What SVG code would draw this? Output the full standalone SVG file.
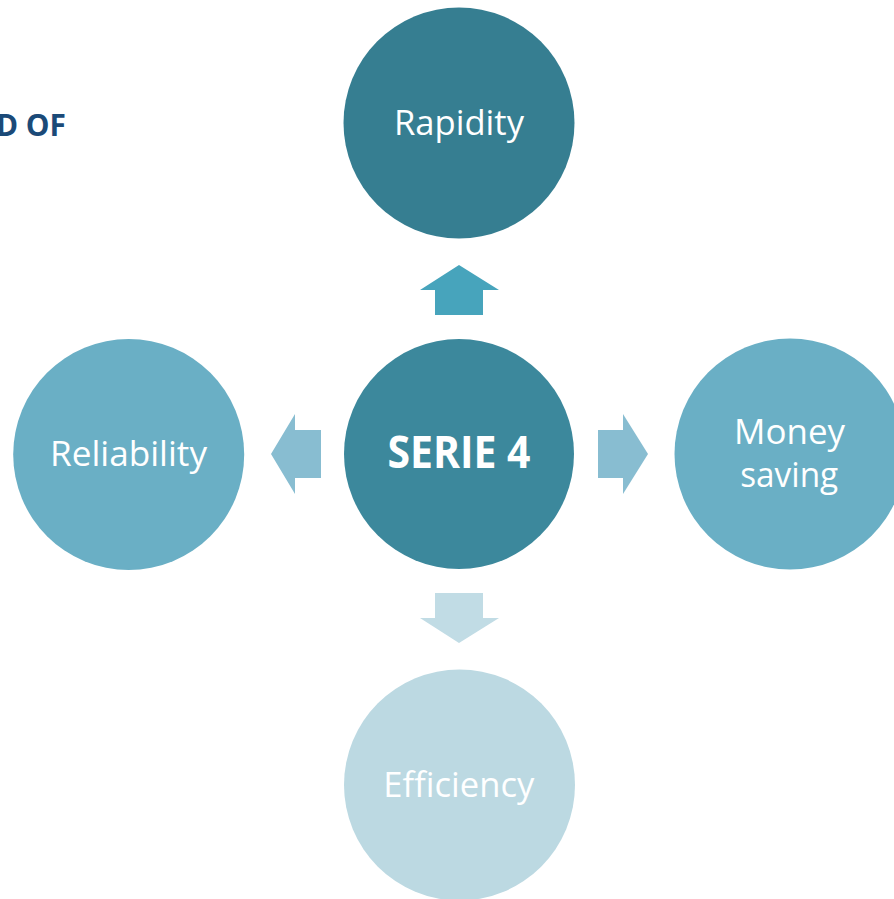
<svg xmlns="http://www.w3.org/2000/svg" width="894" height="899" viewBox="0 0 894 899">
<style>
.lbl{font-family:"Open Sans","Noto Sans","DejaVu Sans",sans-serif;font-size:34px;fill:#ffffff;text-anchor:middle}
.ctr{font-family:"Open Sans","Noto Sans","DejaVu Sans",sans-serif;font-size:44px;font-weight:bold;fill:#ffffff;text-anchor:middle}
.ttl{font-family:"Open Sans","Noto Sans","DejaVu Sans",sans-serif;font-size:30px;font-weight:bold;fill:#1b4a78;text-anchor:end}
</style>
<rect width="894" height="899" fill="#ffffff"/>
<text class="ttl" x="66" y="136" textLength="70" lengthAdjust="spacingAndGlyphs">D OF</text>
<g id="connectors">
<polygon id="arrow-up" points="459,265 499,290 483,290 483,315 435,315 435,290 420,290" fill="#47a4bc"/>
<polygon id="arrow-left" points="271,454 295,414 295,430 321,430 321,478 295,478 295,494" fill="#88bdd1"/>
<polygon id="arrow-right" points="648,454 623,414 623,430 598,430 598,478 623,478 623,494" fill="#88bdd1"/>
<polygon id="arrow-down" points="459,643 499,618 483,618 483,593 435,593 435,618 420,618" fill="#c1dce5"/>
</g>
<g id="node-center">
<circle cx="459" cy="454" r="115" fill="#3c889c"/>
<text class="ctr" x="459" y="468" textLength="143" lengthAdjust="spacingAndGlyphs">SERIE 4</text>
</g>
<g id="node-rapidity">
<circle cx="459" cy="123" r="115.5" fill="#367e91"/>
<text class="lbl" x="459" y="135" textLength="130" lengthAdjust="spacingAndGlyphs">Rapidity</text>
</g>
<g id="node-reliability">
<circle cx="128.7" cy="454.5" r="115.5" fill="#6aafc5"/>
<text class="lbl" x="128.5" y="466" textLength="157" lengthAdjust="spacingAndGlyphs">Reliability</text>
</g>
<g id="node-money">
<circle cx="790" cy="454" r="115.5" fill="#6aafc5"/>
<text class="lbl" x="789.6" y="444" textLength="111" lengthAdjust="spacingAndGlyphs">Money</text>
<text class="lbl" x="789.2" y="487" textLength="98" lengthAdjust="spacingAndGlyphs">saving</text>
</g>
<g id="node-efficiency">
<circle cx="459.5" cy="785" r="115.5" fill="#bcd9e2"/>
<text class="lbl" x="458.8" y="797" textLength="151" lengthAdjust="spacingAndGlyphs">Efficiency</text>
</g>
</svg>
